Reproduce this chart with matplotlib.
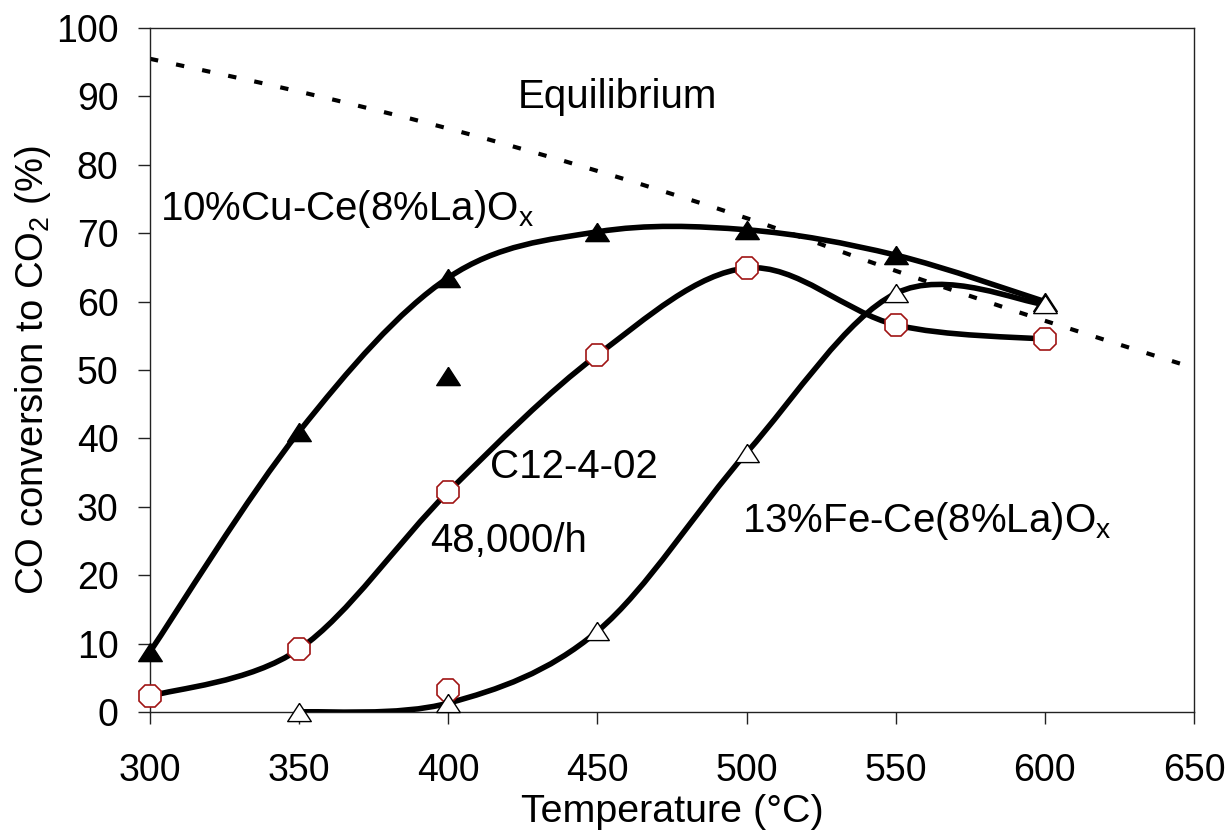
import matplotlib
matplotlib.use("Agg")
import matplotlib.pyplot as plt
import numpy as np
from matplotlib.path import Path
from matplotlib.patches import PathPatch

plt.rcParams['font.family'] = ['Liberation Sans', 'DejaVu Sans']
plt.rcParams['mathtext.fontset'] = 'custom'
plt.rcParams['mathtext.rm'] = 'Liberation Sans'
plt.rcParams['mathtext.it'] = 'Liberation Sans'

# data
temp_cu = [300, 350, 400, 450, 500, 550, 600]
conv_cu = [8.8, 41.0, 63.5, 70.2, 70.5, 66.8, 60.0]
temp_c12 = [300, 350, 400, 450, 500, 550, 600]
conv_c12 = [2.3, 9.2, 32.2, 52.2, 64.9, 56.6, 54.5]
temp_fe = [350, 400, 450, 500, 550, 600]
conv_fe = [0.0, 1.3, 11.8, 37.9, 61.2, 59.6]
temp_eq = [300, 350, 400, 450, 500, 550, 600, 650]
conv_eq = [95.5, 90.7, 85.3, 79.1, 72.2, 64.5, 57.2, 50.3]
# extra single points at 400 C
cu_extra = (400, 49.1)
c12_extra = (400, 3.2)


def smooth_path(x, y):
    # Excel-like smoothed line: cubic bezier with catmull-rom control points
    p = np.column_stack([x, y]).astype(float)
    n = len(p)
    verts = [p[0]]
    codes = [Path.MOVETO]
    for i in range(n - 1):
        p0 = p[i - 1] if i > 0 else p[i]
        p3 = p[i + 2] if i + 2 < n else p[i + 1]
        c1 = p[i] + (p[i + 1] - p0) / 6.0
        c2 = p[i + 1] - (p3 - p[i]) / 6.0
        verts += [c1, c2, p[i + 1]]
        codes += [Path.CURVE4] * 3
    return Path(verts, codes)


fig = plt.figure(figsize=(12.28, 8.32), dpi=100)
ax = fig.add_axes([150 / 1228, 120 / 832, 1044 / 1228, 684 / 832])

fs_tick = 27
fs_label = 28.4
fs_note = 29
line_kw = dict(facecolor='none', edgecolor='black', lw=4.0, capstyle='round', joinstyle='round')

ax.add_patch(PathPatch(smooth_path(temp_eq, conv_eq), facecolor='none', edgecolor='black',
                       lw=3.0, linestyle=(0, (2.0, 4.4)), zorder=2))
ax.add_patch(PathPatch(smooth_path(temp_cu, conv_cu), zorder=3, **line_kw))
ax.add_patch(PathPatch(smooth_path(temp_c12, conv_c12), zorder=3, **line_kw))
ax.add_patch(PathPatch(smooth_path(temp_fe, conv_fe), zorder=3, **line_kw))

tri = [(0, 0.77), (-1, -0.77), (1, -0.77), (0, 0.77)]
ms_tri = 17
ms_oct = 17

ax.plot(temp_cu, conv_cu, ls='none', marker=tri, ms=ms_tri, mfc='black', mec='black',
        zorder=5, clip_on=False)
ax.plot(*cu_extra, ls='none', marker=tri, ms=ms_tri, mfc='black', mec='black', zorder=5)
ax.plot(temp_c12, conv_c12, ls='none', marker='8', ms=ms_oct, mfc='white', mec='#a01414',
        mew=1.2, zorder=5, clip_on=False)
ax.plot(*c12_extra, ls='none', marker='8', ms=ms_oct, mfc='white', mec='#a01414', mew=1.2, zorder=5)
ax.plot(temp_fe, conv_fe, ls='none', marker=tri, ms=ms_tri, mfc='white', mec='black',
        mew=1.0, zorder=6, clip_on=False)

ax.text(423.2, 88.3, 'Equilibrium', fontsize=fs_note, ha='left', va='baseline')
ax.text(303.3, 71.9, r'10%Cu-Ce(8%La)O$_\mathregular{x}$', fontsize=fs_note, ha='left', va='baseline')
ax.text(413.9, 34.2, 'C12-4-02', fontsize=fs_note, ha='left', va='baseline')
ax.text(393.8, 23.4, '48,000/h', fontsize=fs_note, ha='left', va='baseline')
ax.text(498.6, 26.3, r'13%Fe-Ce(8%La)O$_\mathregular{x}$', fontsize=fs_note, ha='left', va='baseline')

ax.set_xlim(300, 650)
ax.set_ylim(0, 100)
ax.set_xticks(np.arange(300, 651, 50))
ax.set_yticks(np.arange(0, 101, 10))
ax.tick_params(axis='x', direction='out', length=8.6, width=1.0, pad=21, labelsize=fs_tick, color='#222222')
ax.tick_params(axis='y', direction='out', length=8.6, width=1.0, pad=14, labelsize=fs_tick, color='#222222')
for s in ax.spines.values():
    s.set_linewidth(1.0)
    s.set_color('#222222')

ax.set_xlabel('Temperature (°C)', fontsize=fs_label, va='baseline')
ax.xaxis.set_label_coords(0.5, (712 - 822) / 684)
ax.set_ylabel(r'CO conversion to CO$_\mathregular{2}$ (%)', fontsize=27.5, va='baseline')
ax.yaxis.set_label_coords((43 - 150) / 1044, 0.5)

fig.savefig('out.png', dpi=100, facecolor='white')
